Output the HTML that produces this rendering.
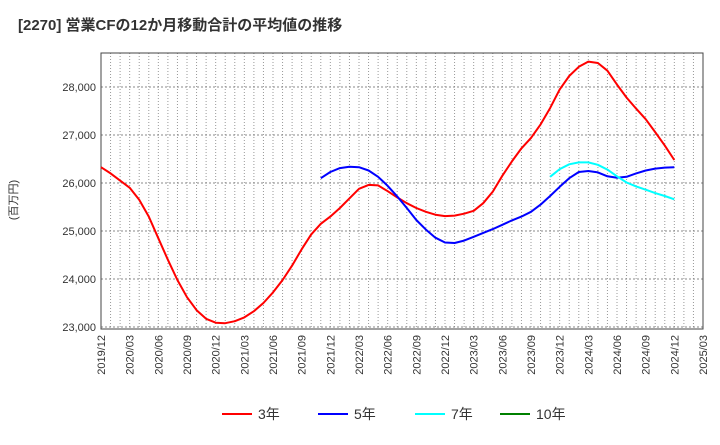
<!DOCTYPE html>
<html><head><meta charset="utf-8"><style>
body{margin:0;background:#fff;font-family:"Liberation Sans","Noto Sans CJK JP",sans-serif;}
svg text{font-family:"Liberation Sans","Noto Sans CJK JP",sans-serif;}
</style></head><body>
<svg id="chart" width="720" height="440" xmlns="http://www.w3.org/2000/svg">
<text x="18" y="30" font-size="15" font-weight="bold" fill="#333">[2270]  営業CFの12か月移動合計の平均値の推移</text>
<text transform="translate(17,200) rotate(-90)" font-size="11" fill="#333" text-anchor="middle">(百万円)</text>
<g id="grid"></g><g id="axes"></g><g id="series"></g><g id="legend"></g>
</svg>
<script>
const yTicks=[23000,24000,25000,26000,27000,28000];
const xTickLabels=["2019/12","2020/03","2020/06","2020/09","2020/12","2021/03","2021/06","2021/09","2021/12","2022/03","2022/06","2022/09","2022/12","2023/03","2023/06","2023/09","2023/12","2024/03","2024/06","2024/09","2024/12","2025/03"];
const red3=[26330,26200,26050,25900,25650,25300,24850,24400,23980,23620,23350,23170,23090,23080,23120,23200,23330,23500,23720,23980,24280,24620,24930,25150,25300,25480,25680,25880,25960,25950,25830,25700,25580,25480,25400,25340,25310,25320,25360,25420,25580,25820,26150,26450,26720,26940,27220,27560,27950,28230,28420,28530,28500,28340,28050,27780,27550,27330,27060,26780,26480];
const blue5Start=23;
const blue5=[26100,26230,26310,26340,26330,26260,26130,25940,25720,25480,25230,25030,24860,24760,24750,24800,24880,24960,25040,25130,25220,25300,25400,25550,25730,25920,26100,26230,26250,26220,26140,26110,26130,26200,26260,26300,26320,26330];
const cyan7Start=47;
const cyan7=[26130,26290,26390,26430,26430,26380,26280,26140,26010,25930,25860,25790,25730,25660];
const legendNames=["3年","5年","7年","10年"];
const legendColors=["#ff0000","#0000ff","#00ffff","#008000"];

const NS="http://www.w3.org/2000/svg";
const L=101,R=703,T=53,B=329,months=63;
const x=i=>L+(R-L)*i/months;
const y=v=>327-(v-23000)*48/1000;
function mk(tag,attrs,parent){const e=document.createElementNS(NS,tag);for(const k in attrs)e.setAttribute(k,attrs[k]);parent.appendChild(e);return e;}
const grid=document.getElementById('grid'),axes=document.getElementById('axes'),series=document.getElementById('series'),legend=document.getElementById('legend');
for(let i=1;i<months;i++){const l=mk('line',{x1:x(i),x2:x(i),y1:T,y2:B,stroke:'#999','stroke-dasharray':'1,2','stroke-width':1},grid);

}
yTicks.forEach(v=>{const l=mk('line',{x1:L,x2:R,y1:y(v),y2:y(v),stroke:'#888','stroke-dasharray':'2,2','stroke-width':1},grid);


const t=mk('text',{x:L-5,y:y(v)+4,'font-size':11,'text-anchor':'end',fill:'#333'},axes);t.textContent=v.toLocaleString('en-US');

});
const frame=mk('rect',{x:L,y:T,width:R-L,height:B-T,fill:'none',stroke:'#444','stroke-width':1},axes);


xTickLabels.forEach((s,i)=>{const t=mk('text',{transform:`translate(${x(i*3)+4},${B+6}) rotate(-90)`,'font-size':11,'text-anchor':'end',fill:'#333'},axes);t.textContent=s;

});
function line(vals,start,color,name){const p=vals.map((v,i)=>x(start+i).toFixed(1)+','+y(v).toFixed(1)).join(' ');
const e=mk('polyline',{points:p,fill:'none',stroke:color,'stroke-width':2,'stroke-linejoin':'round'},series);

}
line(red3,0,'#ff0000','series-3y');
line(blue5,blue5Start,'#0000ff','series-5y');
line(cyan7,cyan7Start,'#00ffff','series-7y');
const lx=[222,318,415,500];
legendNames.forEach((n,i)=>{const g=mk('g',{},legend);


mk('line',{x1:lx[i],x2:lx[i]+30,y1:414,y2:414,stroke:legendColors[i],'stroke-width':2},g);
const t=mk('text',{x:lx[i]+36,y:419,'font-size':14,fill:'#333'},g);t.textContent=n;});
</script>
</body></html>
